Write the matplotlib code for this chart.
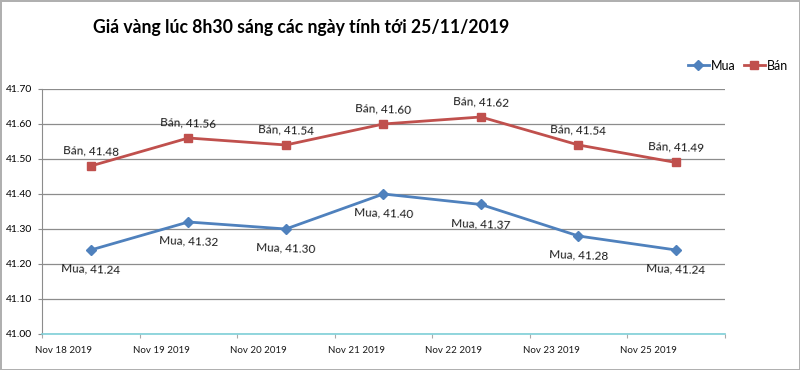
import matplotlib.pyplot as plt
import numpy as np

plt.rcParams['font.family'] = ['Lato', 'DejaVu Sans']

dates = ['Nov 18 2019', 'Nov 19 2019', 'Nov 20 2019', 'Nov 21 2019',
         'Nov 22 2019', 'Nov 23 2019', 'Nov 25 2019']
mua = [41.24, 41.32, 41.30, 41.40, 41.37, 41.28, 41.24]
ban = [41.48, 41.56, 41.54, 41.60, 41.62, 41.54, 41.49]
yticks = [41.00, 41.10, 41.20, 41.30, 41.40, 41.50, 41.60, 41.70]

blue = '#4F81BD'
red = '#C0504D'

fig = plt.figure(figsize=(8, 3.7), dpi=100)
fig.patch.set_edgecolor('#b0b0b0')
fig.patch.set_linewidth(2)
ax = fig.add_axes([0.0525, 0.0973, 0.8535, 0.6622])

x = np.arange(len(dates))
ax.plot(x, mua, color=blue, lw=2, marker='D', ms=5, label='Mua', zorder=3)
ax.plot(x, ban, color=red, lw=2, marker='s', ms=6, label='Bán', zorder=3)

for i, v in enumerate(mua):
    ax.annotate(f'Mua, {v:.2f}', (i, v), xytext=(0, -14), textcoords='offset points',
                ha='center', va='center', fontsize=8.5, color='#1a1a1a', rotation=-2)
for i, v in enumerate(ban):
    ax.annotate(f'Bán, {v:.2f}', (i, v), xytext=(0, 11), textcoords='offset points',
                ha='center', va='center', fontsize=8.5, color='#1a1a1a', rotation=-2)

ax.set_xlim(-0.5, len(dates) - 0.5)
ax.set_ylim(41.0, 41.7)
ax.set_yticks(yticks)
ax.set_yticklabels([f'{t:.2f}' for t in yticks], fontsize=7.5)
ax.yaxis.grid(True, color='#8c8c8c', lw=0.9)
ax.set_axisbelow(True)

ax.set_xticks(np.arange(len(dates) + 1) - 0.5)
ax.set_xticklabels([])
ax.set_xticks(x - 0.28, minor=True)
ax.set_xticklabels(dates, minor=True, fontsize=7, color='#1a1a1a')
ax.tick_params(axis='x', which='major', length=3, color='#aaaaaa')
ax.tick_params(axis='x', which='minor', length=0, pad=9)
ax.tick_params(axis='y', length=3, color='#8c8c8c', pad=4)

for s in ['top', 'right']:
    ax.spines[s].set_visible(False)
ax.spines['left'].set_color('#8c8c8c')
ax.spines['bottom'].set_color('#7fd0d8')
ax.spines['bottom'].set_linewidth(1.2)

fig.text(0.116, 0.925, 'Giá vàng lúc 8h30 sáng các ngày tính tới 25/11/2019',
         fontsize=12.7, fontweight='bold', va='center', ha='left')

fig.legend(loc='center right', bbox_to_anchor=(0.992, 0.822), ncol=2, frameon=False,
           fontsize=9, handlelength=1.7, handletextpad=0.2, columnspacing=0.6,
           borderaxespad=0)

fig.savefig('out.png', dpi=100)
